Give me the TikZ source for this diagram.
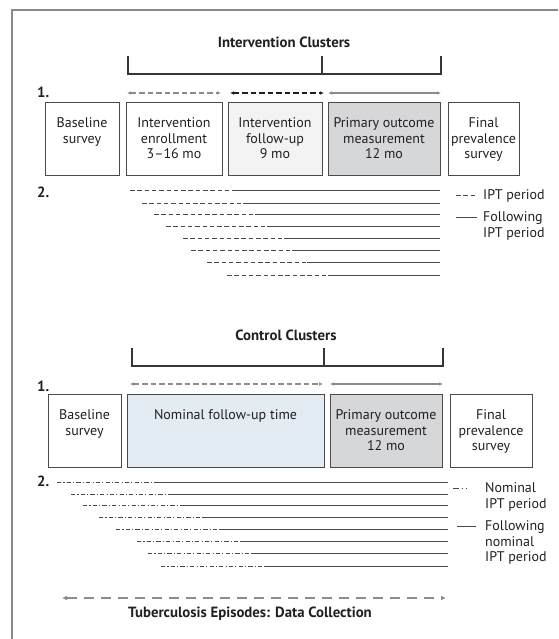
\documentclass[tikz,border=0pt]{standalone}
\usepackage{fontspec}
\setmainfont{PT Sans}
\usetikzlibrary{arrows.meta,fit}

\definecolor{ink}{HTML}{231F20}
\definecolor{rule}{HTML}{4A4A4A}
\definecolor{framegray}{HTML}{8A8A8A}
\definecolor{arrowgray}{HTML}{8C8C8C}
\definecolor{paleGray}{HTML}{F3F3F3}
\definecolor{midGray}{HTML}{D6D7D9}
\definecolor{paleBlue}{HTML}{E2ECF2}

\tikzset{
  txt/.style={font=\fontsize{14}{15.5}\selectfont, text=ink, inner sep=0pt},
  heading/.style={txt, font=\fontsize{14.8}{16}\selectfont\bfseries, anchor=base},
  stage/.style={draw=rule, line width=0.8pt, inner sep=0pt},
  % first line's top sits 16pt below the box top (its baseline about 26pt below)
  stagetext/.style={txt, align=center, anchor=north, yshift=-16pt},
  legendtext/.style={txt, align=left, anchor=north west},
  bracket/.style={draw=ink!90, line width=1.6pt, line cap=rect},
  span/.style={line width=1.2pt, {Latex[length=4pt,width=3.6pt]}-{Latex[length=4pt,width=3.6pt]}},
  spandash/.style={span, dash pattern=on 5.5pt off 3pt},
  ipt/.style={draw=rule, line width=0.9pt, dash pattern=on 4.5pt off 2.8pt},
  nominal/.style={draw=rule, line width=0.9pt, dash pattern=on 4.2pt off 2.2pt on 1.1pt off 2.2pt},
  after/.style={draw=rule, line width=0.9pt},
  frame/.style={draw=framegray, line width=2pt},
}

\begin{document}
\begin{tikzpicture}[x=1pt,y=-1pt]
\useasboundingbox (0,0) rectangle (558,639);

% panel frame
\draw[frame] (12,639) -- (12,10) -- (558,10);

% ---------------- Intervention clusters ----------------
\node[heading] (ihead) at (284,48) {Intervention Clusters};
\draw[bracket] (128,57) -- (128,74) -- (441,74) -- (441,57);
\draw[bracket] (322,74) -- (322,57);

\node[heading, anchor=base west] (ione) at (37,98) {1.};
\coordinate (ia1) at (127,93);  \coordinate (ia2) at (221,93);
\coordinate (ib1) at (230,93);  \coordinate (ib2) at (324,93);
\coordinate (ic1) at (328,93);  \coordinate (ic2) at (441,93);
\draw[spandash, arrowgray] (ia1) -- (ia2);
\draw[spandash, ink] (ib1) -- (ib2);
\draw[span, arrowgray] (ic1) -- (ic2);

\node[stage, fit={(45,102) (119,175)}] (ibase) {};
\node[stage, fit={(126,102) (222,175)}] (ienrol) {};
\node[stage, fill=paleGray, fit={(228,102) (322,175)}] (ifollow) {};
\node[stage, fill=midGray, fit={(328,102) (440,175)}] (iprimary) {};
\node[stage, fit={(448,102) (519,175)}] (ifinal) {};

\node[stagetext] (ibaset) at (ibase.north) {Baseline\\survey};
\node[stagetext] (ienrolt) at (ienrol.north) {Intervention\\enrollment\\3–16 mo};
\node[stagetext] (ifollowt) at (ifollow.north) {Intervention\\follow-up\\9 mo};
\node[stagetext] (iprimaryt) at (iprimary.north) {Primary outcome\\measurement\\12 mo};
\node[stagetext] (ifinalt) at (ifinal.north) {Final\\prevalence\\survey};

\node[heading, anchor=base west] (itwo) at (37,197) {2.};
\foreach \s/\m/\y in {130/232/190, 142/243/203, 154/255/214, 166/267/226,
                      183/284/238, 191/292/250, 207/307/262, 227/328/275}{
  \draw[ipt] (\s,\y) -- (\m,\y);
  \draw[after] (\m,\y) -- (440,\y);
}
\draw[ipt] (456,195) -- (477,195);
\node[legendtext] (ileg1) at (483,189.5) {IPT period};
\draw[after] (456,217) -- (477,217);
\node[legendtext] (ileg2) at (483,211.5) {Following\\IPT period};

% ---------------- Control clusters ----------------
\node[heading] (chead) at (286,340) {Control Clusters};
\draw[bracket] (132,349) -- (132,366) -- (443,366) -- (443,349);
\draw[bracket] (324,366) -- (324,349);

\node[heading, anchor=base west] (cone) at (37,391) {1.};
\coordinate (ca1) at (130,384);  \coordinate (ca2) at (323,384);
\coordinate (cb1) at (330,384);  \coordinate (cb2) at (443,384);
\draw[spandash, arrowgray] (ca1) -- (ca2);
\draw[span, arrowgray] (cb1) -- (cb2);

\node[stage, fit={(48,394) (121,467)}] (cbase) {};
\node[stage, fill=paleBlue, fit={(127,394) (324,467)}] (cnominal) {};
\node[stage, fill=midGray, fit={(330,394) (442,467)}] (cprimary) {};
\node[stage, fit={(450,394) (532,467)}] (cfinal) {};

\node[stagetext] (cbaset) at (cbase.north) {Baseline\\survey};
\node[stagetext] (cnominalt) at (cnominal.north) {Nominal follow-up time};
\node[stagetext] (cprimaryt) at (cprimary.north) {Primary outcome\\measurement\\12 mo};
\node[stagetext] (cfinalt) at (cfinal.north) {Final\\prevalence\\survey};

\node[heading, anchor=base west] (ctwo) at (37,486) {2.};
\foreach \s/\m/\y in {57/155/482, 71/172/494, 83/184/505, 99/202/517,
                      116/219/529, 137/240/541, 148/252/553, 161/264/566}{
  \draw[nominal] (\s,\y) -- (\m,\y);
  \draw[after] (\m,\y) -- (448,\y);
}
\draw[draw=rule, line width=0.9pt, dash pattern=on 6pt off 3pt on 1.2pt off 3pt on 1.2pt off 5pt] (453,488) -- (471,488);
\node[legendtext] (cleg1) at (485,482.5) {Nominal\\IPT period};
\draw[after] (457,526) -- (476,526);
\node[legendtext] (cleg2) at (485,520.5) {Following\\nominal\\IPT period};

% ---------------- Data collection ----------------
\coordinate (tb1) at (62,598);
\coordinate (tb2) at (446,598);
\draw[arrowgray, line width=2pt, dash pattern=on 10pt off 7pt,
      {Latex[length=5pt,width=5pt]}-{Latex[length=5pt,width=5pt]}] (tb1) -- (tb2);
\node[heading] (tbtext) at (250,617) {Tuberculosis Episodes: Data Collection};

\end{tikzpicture}
\end{document}
